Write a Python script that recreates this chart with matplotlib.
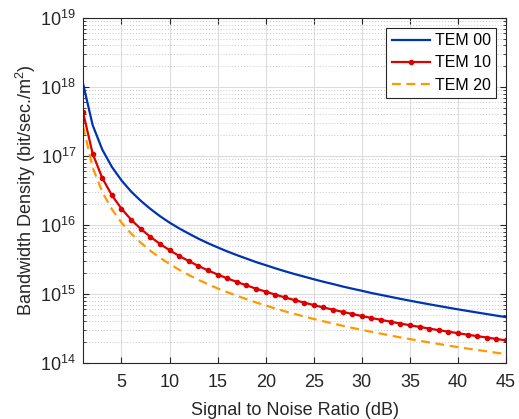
import matplotlib
matplotlib.use("Agg")
import matplotlib.pyplot as plt
import numpy as np
from matplotlib.ticker import LogLocator, NullFormatter, FixedLocator

plt.rcParams['font.family'] = ['Liberation Sans', 'DejaVu Sans']
plt.rcParams['mathtext.fontset'] = 'custom'
plt.rcParams['mathtext.rm'] = 'Liberation Sans'
plt.rcParams['mathtext.it'] = 'Liberation Sans'
plt.rcParams['mathtext.default'] = 'regular'

snr_db = list(range(1, 46))

# values in units of 1e15 bit/sec./m^2
tem00 = [1120, 280, 123.8, 69.4, 44.2, 30.5, 22.4, 17.1, 13.4, 10.8,
         8.91, 7.48, 6.32, 5.43, 4.72, 4.13, 3.65, 3.25, 2.89, 2.61,
         2.35, 2.13, 1.94, 1.78, 1.63, 1.50, 1.39, 1.28, 1.19, 1.11,
         1.03, 0.966, 0.905, 0.848, 0.797, 0.750, 0.707, 0.668, 0.631, 0.597,
         0.566, 0.537, 0.510, 0.484, 0.460]
tem10 = [430, 108, 47.8, 26.9, 17.2, 11.9, 8.78, 6.72, 5.31, 4.30,
         3.55, 2.99, 2.54, 2.19, 1.91, 1.68, 1.49, 1.33, 1.19, 1.08,
         0.975, 0.888, 0.813, 0.747, 0.688, 0.636, 0.590, 0.548, 0.511, 0.478,
         0.447, 0.420, 0.395, 0.372, 0.351, 0.332, 0.314, 0.298, 0.283, 0.269,
         0.256, 0.244, 0.233, 0.222, 0.212]
tem20 = [271, 67.7, 30.1, 16.9, 10.8, 7.50, 5.53, 4.23, 3.35, 2.71,
         2.24, 1.88, 1.60, 1.38, 1.20, 1.06, 0.939, 0.838, 0.750, 0.680,
         0.614, 0.559, 0.512, 0.471, 0.433, 0.401, 0.372, 0.345, 0.322, 0.301,
         0.282, 0.265, 0.249, 0.234, 0.221, 0.209, 0.198, 0.188, 0.178, 0.169,
         0.161, 0.154, 0.147, 0.140, 0.134]
scale = 1e15

labels = ["TEM 00", "TEM 10", "TEM 20"]
xticks = [5, 10, 15, 20, 25, 30, 35, 40, 45]
yexps = [14, 15, 16, 17, 18, 19]

fig = plt.figure(figsize=(5.19, 4.19), dpi=100)
ax = fig.add_axes([0.160, 0.134, 0.815, 0.823])

x = np.array(snr_db)
ax.plot(x, np.array(tem00) * scale, color='#0033b3', lw=1.6, label=labels[0])
ax.plot(x, np.array(tem10) * scale, color='#dd0000', lw=1.6, marker='o',
        markersize=3, label=labels[1])
ax.plot(x, np.array(tem20) * scale, color='#ff9900', lw=1.6, ls=(0, (4, 2.5)),
        label=labels[2])

ax.set_yscale('log')
ax.set_xlim(1, 45)
ax.set_ylim(10.0 ** yexps[0], 10.0 ** yexps[-1])
ax.xaxis.set_major_locator(FixedLocator(xticks))
ax.set_yticks([10.0 ** e for e in yexps])
ax.set_yticklabels([r'$10^{%d}$' % e for e in yexps])
ax.yaxis.set_minor_locator(LogLocator(base=10, subs=np.arange(2, 10), numticks=20))
ax.yaxis.set_minor_formatter(NullFormatter())

ax.grid(True, which='major', color='#dcdcdc', lw=0.8, ls='-')
ax.grid(True, which='minor', axis='y', color='#c8c8c8', lw=0.7, ls=(0, (1, 2)))
ax.set_axisbelow(True)

for s in ax.spines.values():
    s.set_color('#262626')
    s.set_linewidth(0.8)
ax.tick_params(which='both', direction='in', top=True, right=True,
               colors='#262626', labelsize=13)
ax.tick_params(which='major', length=4)
ax.tick_params(which='minor', length=2)
ax.tick_params(axis='x', which='major', pad=8)
ax.tick_params(axis='y', which='major', pad=5)
for lbl in ax.get_xticklabels() + ax.get_yticklabels():
    lbl.set_color('#262626')

ax.set_xlabel('Signal to Noise Ratio (dB)', fontsize=13, color='#262626', labelpad=8)
ax.set_ylabel('Bandwidth Density (bit/sec./m$^2$)', fontsize=13, color='#262626',
              labelpad=2)

leg = ax.legend(loc='upper right', fontsize=11.5, frameon=True, fancybox=False,
                edgecolor='#262626', framealpha=1, handlelength=2.4,
                handletextpad=0.3, borderaxespad=0.6, labelspacing=0.45,
                borderpad=0.35)
leg.get_frame().set_linewidth(0.8)

fig.savefig('out.png', dpi=100)
